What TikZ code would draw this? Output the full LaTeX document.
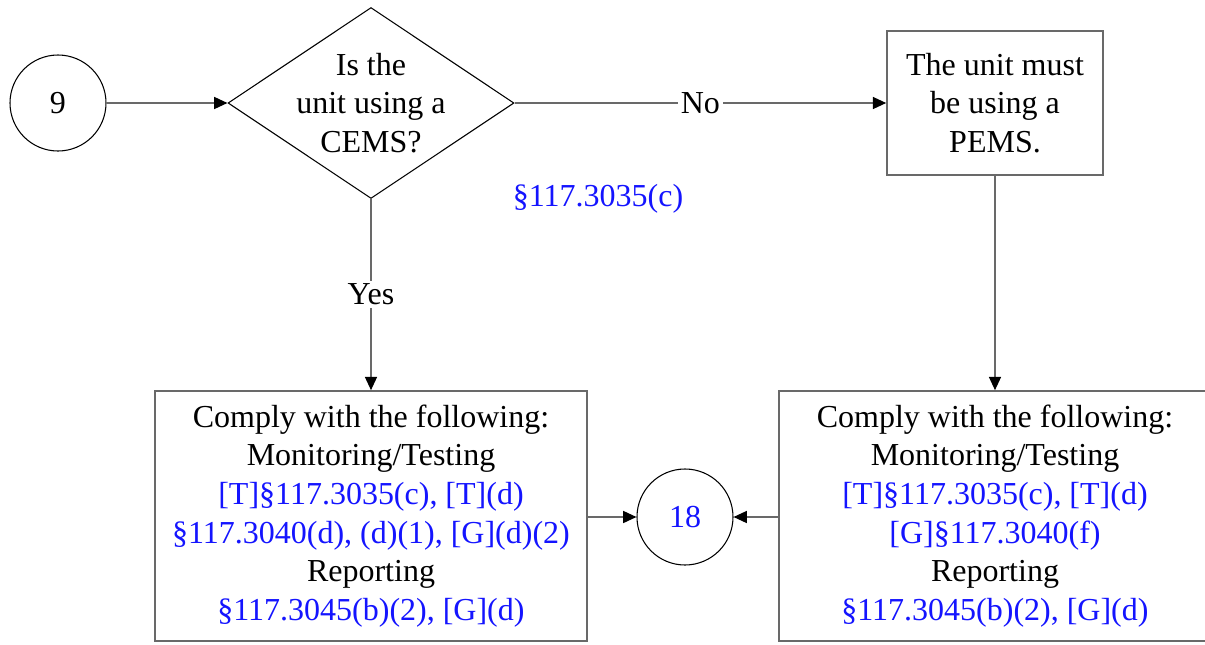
\documentclass[tikz,border=0pt]{standalone}
\usepackage{fontspec}
\setmainfont{Liberation Serif}
\usetikzlibrary{shapes.geometric,arrows.meta}
\definecolor{linegray}{RGB}{105,105,105}
\definecolor{refblue}{RGB}{20,20,255}
\tikzset{
  every node/.style={font=\fontsize{12pt}{14.5pt}\selectfont},
  conn/.style={draw=linegray,line width=0.6pt,-{Triangle[length=5pt,width=4.5pt,fill=black,color=black]}},
  plain/.style={draw=linegray,line width=0.6pt},
  tag/.style={fill=white,inner sep=1pt},
  onpage/.style={circle,draw,line width=0.4pt,minimum size=36pt,inner sep=0pt},
  decision/.style={diamond,draw,line width=0.4pt,inner sep=0pt,minimum width=107.25pt,minimum height=71.6pt},
  stepbox/.style={rectangle,draw=linegray,line width=0.6pt,align=center,inner sep=0pt},
  ref/.style={text=refblue}
}
\begin{document}
\begin{tikzpicture}[x=0.375pt,y=-0.375pt]
  \useasboundingbox (0,0) rectangle (1205,644);
  %% top row
  \node[onpage] (c9) at (58,103) {9};
  \node[decision,label={[align=center]center:Is the\\unit using a\\CEMS?}] (cems) at (371,103) {};
  \node[stepbox,minimum width=81pt,minimum height=54pt] (pems) at (995,103) {The unit must\\be using a\\PEMS.};
  \node[ref] (cite) at (598,199) {\S117.3035(c)};
  %% bottom row
  \node[stepbox,minimum width=162pt,minimum height=93.75pt] (cemsreq) at (371,516)
    {Comply with the following:\\Monitoring/Testing\\
     \textcolor{refblue}{[T]\S117.3035(c), [T](d)}\\
     \textcolor{refblue}{\S117.3040(d), (d)(1), [G](d)(2)}\\
     Reporting\\
     \textcolor{refblue}{\S117.3045(b)(2), [G](d)}};
  \node[stepbox,minimum width=162pt,minimum height=93.75pt] (pemsreq) at (995,516)
    {Comply with the following:\\Monitoring/Testing\\
     \textcolor{refblue}{[T]\S117.3035(c), [T](d)}\\
     \textcolor{refblue}{[G]\S117.3040(f)}\\
     Reporting\\
     \textcolor{refblue}{\S117.3045(b)(2), [G](d)}};
  \node[onpage,ref] (c18) at (685,517) {18};
  %% connectors
  \draw[conn] (c9) -- (cems.west);
  \draw[conn] (cems.east) -- node[tag] (no) {No} (pems.west);
  \draw[conn] (cems.south) -- node[tag] (yes) {Yes} (cemsreq.north);
  \draw[conn] (pems.south) -- (pemsreq.north);
  \draw[conn] (cemsreq.east |- c18) -- (c18.west);
  \draw[conn] (pemsreq.west |- c18) -- (c18.east);
\end{tikzpicture}
\end{document}
